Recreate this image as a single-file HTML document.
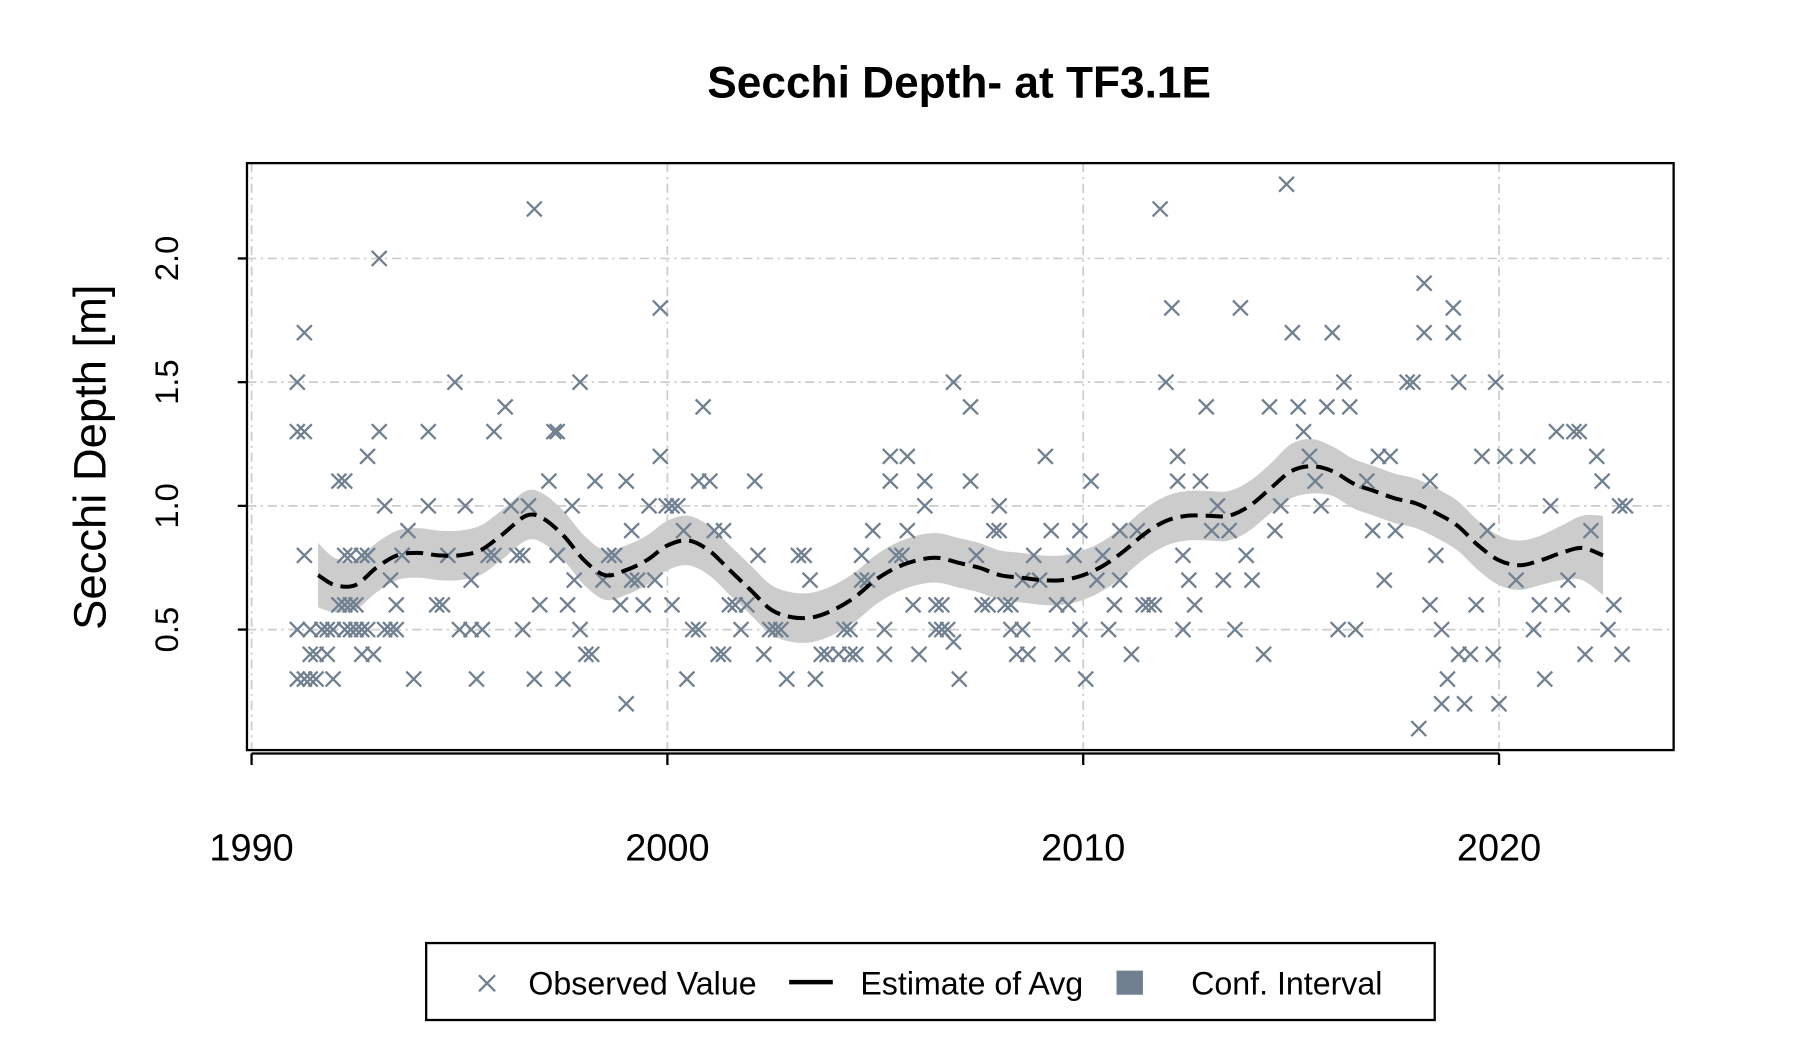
<!DOCTYPE html>
<html><head><meta charset="utf-8"><style>
html,body{margin:0;padding:0;background:#fff;}
svg{display:block;font-family:"Liberation Sans",Arial,sans-serif;}
</style></head><body>
<svg id="chart" width="1800" height="1050" viewBox="0 0 1567 914.1" xmlns="http://www.w3.org/2000/svg">
<text x="835" y="85" text-anchor="middle" font-size="38.5" font-weight="bold">Secchi Depth- at TF3.1E</text>
<g id="grid"></g>
<g id="ci"></g>
<g id="pts"></g>
<g id="trend"></g>
<rect x="215" y="142" width="1242" height="511" fill="none" stroke="#000" stroke-width="2"/>
<g id="axes"></g>
<text transform="translate(92,398) rotate(-90)" text-anchor="middle" font-size="39.5">Secchi Depth [m]</text>
<g>
<rect x="371" y="821" width="878" height="67" fill="#fff" stroke="#000" stroke-width="2"/>
<g>
<path d="M417,849 L431,863 M431,849 L417,863" stroke="#708090" stroke-width="2"/>
<text x="460" y="866" font-size="28">Observed Value</text></g>
<g>
<line x1="687" y1="855" x2="725" y2="855" stroke="#000" stroke-width="4"/>
<text x="749" y="866" font-size="28">Estimate of Avg</text></g>
<g>
<rect x="972" y="845" width="23" height="21" fill="#708090"/>
<text x="1037" y="866" font-size="28">Conf. Interval</text></g>
</g>
</svg>
<script>
const obsYear=[1991.10,1991.10,1991.10,1991.10,1991.27,1991.27,1991.27,1991.27,1991.41,1991.41,1991.41,1991.55,1991.55,1991.69,1991.82,1991.82,1991.96,1991.96,1992.10,1992.10,1992.24,1992.24,1992.24,1992.24,1992.38,1992.38,1992.38,1992.51,1992.51,1992.65,1992.65,1992.65,1992.79,1992.79,1992.79,1992.93,1993.07,1993.07,1993.20,1993.20,1993.34,1993.34,1993.48,1993.48,1993.62,1993.76,1993.90,1994.25,1994.25,1994.45,1994.59,1994.72,1994.89,1995.00,1995.14,1995.28,1995.28,1995.41,1995.55,1995.69,1995.83,1995.83,1996.10,1996.24,1996.38,1996.52,1996.52,1996.66,1996.80,1996.80,1996.93,1997.15,1997.27,1997.35,1997.35,1997.49,1997.60,1997.71,1997.76,1997.90,1997.90,1998.04,1998.18,1998.26,1998.45,1998.59,1998.73,1998.87,1999.01,1999.01,1999.14,1999.14,1999.28,1999.42,1999.56,1999.70,1999.83,1999.83,1999.97,2000.11,2000.11,2000.25,2000.39,2000.47,2000.61,2000.75,2000.75,2000.86,2001.02,2001.13,2001.22,2001.35,2001.35,2001.49,2001.63,2001.77,2001.91,2002.10,2002.18,2002.32,2002.46,2002.60,2002.73,2002.87,2003.15,2003.29,2003.43,2003.56,2003.70,2003.84,2004.12,2004.25,2004.39,2004.39,2004.53,2004.67,2004.67,2004.81,2004.94,2005.22,2005.22,2005.36,2005.36,2005.50,2005.64,2005.77,2005.77,2005.91,2006.05,2006.19,2006.19,2006.46,2006.46,2006.60,2006.60,2006.74,2006.88,2006.88,2007.02,2007.29,2007.29,2007.43,2007.57,2007.71,2007.85,2007.98,2007.98,2008.12,2008.26,2008.26,2008.40,2008.54,2008.54,2008.67,2008.81,2008.95,2009.09,2009.23,2009.36,2009.50,2009.64,2009.78,2009.92,2009.92,2010.06,2010.19,2010.33,2010.47,2010.61,2010.75,2010.88,2010.88,2011.16,2011.30,2011.44,2011.57,2011.71,2011.85,2011.99,2012.13,2012.27,2012.27,2012.40,2012.40,2012.54,2012.68,2012.82,2012.96,2013.09,2013.23,2013.37,2013.51,2013.65,2013.78,2013.92,2014.06,2014.34,2014.48,2014.61,2014.75,2014.89,2015.03,2015.17,2015.30,2015.44,2015.58,2015.72,2015.86,2015.99,2016.13,2016.27,2016.41,2016.55,2016.82,2016.96,2017.10,2017.24,2017.38,2017.51,2017.79,2017.93,2018.07,2018.20,2018.20,2018.34,2018.34,2018.48,2018.62,2018.62,2018.76,2018.90,2018.90,2019.03,2019.03,2019.17,2019.31,2019.45,2019.59,2019.72,2019.86,2019.92,2020.00,2020.14,2020.41,2020.69,2020.83,2020.97,2021.10,2021.24,2021.38,2021.52,2021.66,2021.80,2021.93,2022.07,2022.21,2022.35,2022.48,2022.62,2022.76,2022.90,2022.96,2023.04];
const obsValue=[1.5,1.3,0.5,0.3,1.7,1.3,0.8,0.3,0.5,0.3,0.4,0.3,0.4,0.5,0.5,0.4,0.3,0.5,1.1,0.6,1.1,0.8,0.6,0.5,0.5,0.6,0.8,0.5,0.6,0.8,0.5,0.4,1.2,0.8,0.5,0.4,2.0,1.3,0.5,1.0,0.5,0.7,0.5,0.6,0.8,0.9,0.3,1.3,1.0,0.6,0.6,0.8,1.5,0.5,1.0,0.5,0.7,0.3,0.5,0.8,1.3,0.8,1.4,1.0,0.8,0.8,0.5,1.0,2.2,0.3,0.6,1.1,1.3,1.3,0.8,0.3,0.6,1.0,0.7,1.5,0.5,0.4,0.4,1.1,0.7,0.8,0.8,0.6,0.2,1.1,0.9,0.7,0.7,0.6,1.0,0.7,1.8,1.2,1.0,0.6,1.0,1.0,0.9,0.3,0.5,1.1,0.5,1.4,1.1,0.9,0.4,0.9,0.4,0.6,0.6,0.5,0.6,1.1,0.8,0.4,0.5,0.5,0.5,0.3,0.8,0.8,0.7,0.3,0.4,0.4,0.4,0.5,0.5,0.4,0.4,0.7,0.8,0.7,0.9,0.5,0.4,1.2,1.1,0.8,0.8,1.2,0.9,0.6,0.4,1.1,1.0,0.6,0.5,0.6,0.5,0.5,1.5,0.45,0.3,1.4,1.1,0.8,0.6,0.6,0.9,0.9,1.0,0.6,0.6,0.5,0.4,0.5,0.7,0.4,0.8,0.7,1.2,0.9,0.6,0.4,0.6,0.8,0.9,0.5,0.3,1.1,0.7,0.8,0.5,0.6,0.7,0.9,0.4,0.9,0.6,0.6,0.6,2.2,1.5,1.8,1.1,1.2,0.5,0.8,0.7,0.6,1.1,1.4,0.9,1.0,0.7,0.9,0.5,1.8,0.8,0.7,0.4,1.4,0.9,1.0,2.3,1.7,1.4,1.3,1.2,1.1,1.0,1.4,1.7,0.5,1.5,1.4,0.5,1.1,0.9,1.2,0.7,1.2,0.9,1.5,1.5,0.1,1.9,1.7,1.1,0.6,0.8,0.2,0.5,0.3,1.8,1.7,1.5,0.4,0.2,0.4,0.6,1.2,0.9,0.4,1.5,0.2,1.2,0.7,1.2,0.5,0.6,0.3,1.0,1.3,0.6,0.7,1.3,1.3,0.4,0.9,1.2,1.1,0.5,0.6,1.0,0.4,1.0];
const estYear=[1991.6,1992,1992.5,1993,1993.5,1994,1994.5,1995,1995.5,1996,1996.6,1997,1997.5,1998,1998.5,1999,1999.5,2000,2000.5,2001,2001.5,2002,2002.5,2003,2003.5,2004,2004.5,2005,2005.5,2006,2006.5,2007,2007.5,2008,2008.5,2009,2009.5,2010,2010.5,2011,2011.5,2012,2012.5,2013,2013.5,2014,2014.5,2015,2015.5,2016,2016.5,2017,2017.5,2018,2018.5,2019,2019.5,2020,2020.5,2021,2021.5,2022,2022.5];
const estValue=[0.72,0.68,0.68,0.75,0.80,0.81,0.80,0.80,0.82,0.88,0.96,0.95,0.88,0.78,0.72,0.74,0.78,0.84,0.86,0.82,0.74,0.66,0.58,0.55,0.55,0.58,0.63,0.70,0.75,0.78,0.79,0.77,0.75,0.72,0.71,0.70,0.70,0.72,0.76,0.82,0.89,0.94,0.96,0.96,0.96,1.00,1.07,1.14,1.16,1.14,1.09,1.06,1.03,1.01,0.97,0.92,0.84,0.78,0.76,0.78,0.81,0.83,0.80];
const ciHalf=[0.13,0.11,0.10,0.10,0.10,0.10,0.10,0.10,0.10,0.10,0.10,0.10,0.10,0.10,0.10,0.10,0.10,0.10,0.10,0.10,0.10,0.10,0.10,0.10,0.10,0.10,0.10,0.10,0.10,0.10,0.10,0.10,0.10,0.10,0.10,0.10,0.10,0.10,0.10,0.10,0.10,0.10,0.10,0.10,0.10,0.10,0.10,0.11,0.11,0.10,0.10,0.10,0.10,0.10,0.10,0.10,0.10,0.10,0.10,0.10,0.11,0.13,0.16];
const xTicks=[1990,2000,2010,2020];
const yTicks=[0.5,1.0,1.5,2.0];

const NS='http://www.w3.org/2000/svg';
const X=y=>219+(y-1990)*36.2;
const Y=v=>225+(2.0-v)*215.4;
function mk(tag,attrs,parent){const e=document.createElementNS(NS,tag);for(const k in attrs)e.setAttribute(k,attrs[k]);parent.appendChild(e);return e;}
function spline(p){let d=`M${p[0][0]},${p[0][1]}`;for(let i=0;i<p.length-1;i++){const p0=p[i-1]||p[i],p1=p[i],p2=p[i+1],p3=p[i+2]||p2;
d+=` C${p1[0]+(p2[0]-p0[0])/6},${p1[1]+(p2[1]-p0[1])/6} ${p2[0]-(p3[0]-p1[0])/6},${p2[1]-(p3[1]-p1[1])/6} ${p2[0]},${p2[1]}`;}return d;}

const grid=document.getElementById('grid');
xTicks.forEach(t=>{const l=mk('line',{x1:X(t),x2:X(t),y1:142,y2:653,stroke:'#cccccc','stroke-width':1.5,'stroke-dasharray':'8,4,2,4'},grid);

});
yTicks.forEach(t=>{const l=mk('line',{x1:215,x2:1457,y1:Y(t),y2:Y(t),stroke:'#cccccc','stroke-width':1.5,'stroke-dasharray':'8,4,2,4'},grid);

});

const up=estYear.map((y,i)=>[X(y),Y(estValue[i]+ciHalf[i])]);
const lo=estYear.map((y,i)=>[X(y),Y(estValue[i]-ciHalf[i])]).reverse();
const upD=spline(up), loD=spline(lo).replace('M','L');
const band=mk('path',{d:upD+' '+loD+' Z',fill:'#cccccc'},document.getElementById('ci'));



const pts=document.getElementById('pts');
obsYear.forEach((y,i)=>{const cx=X(y),cy=Y(obsValue[i]),s=6.5;
const p=mk('path',{d:`M${cx-s},${cy-s} L${cx+s},${cy+s} M${cx+s},${cy-s} L${cx-s},${cy+s}`,stroke:'#708090','stroke-width':2},pts);

});

const tl=mk('path',{d:spline(estYear.map((y,i)=>[X(y),Y(estValue[i])])),fill:'none',stroke:'#000','stroke-width':3.5,'stroke-dasharray':'15,7'},document.getElementById('trend'));



const ax=document.getElementById('axes');
mk('line',{x1:X(xTicks[0]),x2:X(xTicks[xTicks.length-1]),y1:656,y2:656,stroke:'#000','stroke-width':2},ax);
xTicks.forEach(t=>{mk('line',{x1:X(t),x2:X(t),y1:656,y2:666,stroke:'#000','stroke-width':2},ax);
const tx=mk('text',{x:X(t),y:749,'text-anchor':'middle','font-size':33},ax);tx.textContent=t;

});
yTicks.forEach(t=>{mk('line',{x1:207,x2:215,y1:Y(t),y2:Y(t),stroke:'#000','stroke-width':2},ax);
const tx=mk('text',{transform:`translate(155,${Y(t)}) rotate(-90)`,'text-anchor':'middle','font-size':28.5},ax);tx.textContent=t.toFixed(1);

});
</script>
</body></html>
